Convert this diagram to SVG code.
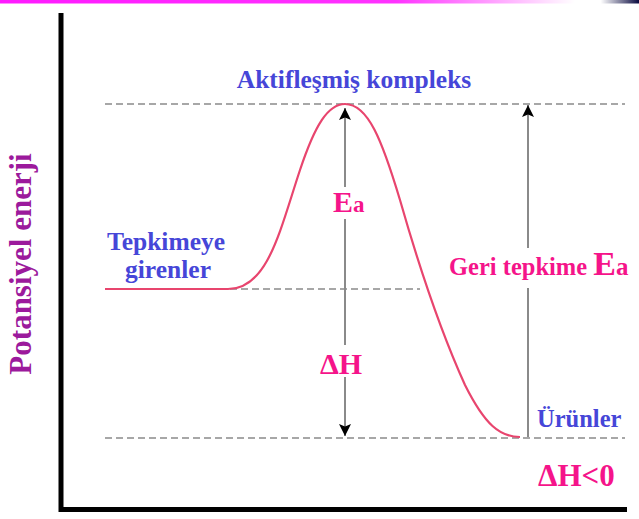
<svg xmlns="http://www.w3.org/2000/svg" width="639" height="519" viewBox="0 0 639 519">
<style>
.t{font-family:"Liberation Serif","Times New Roman",serif;font-weight:bold}
.blue{fill:#4646d8}
.mag{fill:#f5148a}
.dash{stroke:#8a8a8a;stroke-width:1.6;stroke-dasharray:7 4;fill:none}
.arr{stroke:#8a8a8a;stroke-width:2;fill:none}
</style>
<defs>
<linearGradient id="bar" x1="0" x2="1" y1="0" y2="0">
<stop offset="0" stop-color="#ff1aff"/>
<stop offset="0.62" stop-color="#ff33ff"/>
<stop offset="0.9" stop-color="#ffffff"/>
<stop offset="0.94" stop-color="#ffffff"/>
<stop offset="1" stop-color="#0a0a40"/>
</linearGradient>
<marker id="ah" viewBox="0 0 12 16" refX="12" refY="8" markerWidth="12" markerHeight="16" markerUnits="userSpaceOnUse" orient="auto">
<path d="M0,2 L12,8 L0,14 L2.5,8 Z" fill="#000"/>
</marker>
</defs>
<rect width="639" height="519" fill="#fff"/>
<rect x="0" y="0" width="639" height="3.5" fill="url(#bar)"/>
<g id="axes">
<line x1="61" y1="13" x2="61" y2="512" stroke="#000" stroke-width="5"/>
<line x1="59" y1="509.5" x2="627" y2="509.5" stroke="#000" stroke-width="5"/>
</g>
<g id="guides">
<line class="dash" x1="105" y1="104" x2="625" y2="104"/>
<line class="dash" x1="230" y1="289" x2="420" y2="289"/>
<line class="dash" x1="105" y1="438" x2="625" y2="438"/>
</g>
<g id="curve">
<path d="M105,289 L228,289 C268,289 280,230 300,170 C315,125 328,104 345,104 C368,104 382,140 400,200 C420,270 440,330 465,385 C485,425 500,437 520,437" fill="none" stroke="#e8456e" stroke-width="2.2"/>
</g>
<g id="connectors">
<line class="arr" x1="345" y1="187" x2="345" y2="108" marker-end="url(#ah)"/>
<line class="arr" x1="345" y1="289" x2="345" y2="219"/>
<line class="arr" x1="345" y1="289" x2="345" y2="345"/>
<line class="arr" x1="345" y1="377" x2="345" y2="436" marker-end="url(#ah)"/>
<line class="arr" x1="528" y1="437" x2="528" y2="288"/>
<line class="arr" x1="528" y1="248" x2="528" y2="105" marker-end="url(#ah)"/>
</g>
<g id="ylabel">
<text class="t" x="0" y="0" transform="translate(31,264) rotate(-90)" text-anchor="middle" font-size="31" fill="#9c1a9c">Potansiyel enerji</text>
</g>
<g id="aktif">
<text class="t blue" x="354" y="88" text-anchor="middle" font-size="25.5">Aktifleşmiş kompleks</text>
</g>
<g id="tepkimeye">
<text class="t blue" x="166" y="249.5" text-anchor="middle" font-size="25.5">Tepkimeye</text>
<text class="t blue" x="168" y="277.5" text-anchor="middle" font-size="25.5">girenler</text>
</g>
<g id="ea">
<text class="t mag" x="333" y="212" font-size="30">E<tspan font-size="23">a</tspan></text>
</g>
<g id="dh">
<text class="t mag" x="320" y="374" font-size="30">ΔH</text>
</g>
<g id="geri">
<text class="t mag" x="449" y="275" font-size="24.5">Geri tepkime <tspan font-size="34">E</tspan><tspan font-size="25">a</tspan></text>
</g>
<g id="urunler">
<text class="t blue" x="537" y="427" font-size="24.5">Ürünler</text>
</g>
<g id="dhlt">
<text class="t mag" x="538" y="486" font-size="31">ΔH&lt;0</text>
</g>
</svg>
